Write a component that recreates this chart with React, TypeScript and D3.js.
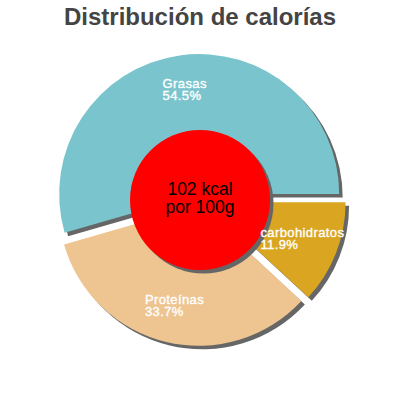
import { useEffect, useRef } from 'react';
import * as d3 from 'd3';

const title = 'Distribución de calorías';
const categories = ['Grasas', 'carbohidratos', 'Proteínas'];
const percents = [54.5, 11.9, 33.7];
const colors = ['#7ac5cd', '#daa520', '#eec591'];
const centerLines = ['102 kcal', 'por 100g'];

type Arc = d3.PieArcDatum<number>;

export default function App() {
  const svgRef = useRef<SVGSVGElement>(null);

  useEffect(() => {
    if (!svgRef.current) return;
    const svg = d3.select(svgRef.current);
    svg.selectAll('*').remove();

    const cx = 200;
    const cy = 200;
    const radius = 140;
    const inner = 70;
    const explode = 6;
    const shadow = 3.5;
    const labelR = 110;
    const font = '"Liberation Sans", Arial, sans-serif';

    // Grasas ends at 3 o'clock, rest follows clockwise
    const total = d3.sum(percents);
    const start = Math.PI / 2 - (2 * Math.PI * percents[0]) / total;
    const pie = d3.pie<number>().sort(null).startAngle(start).endAngle(start + 2 * Math.PI);
    const arcs = pie(percents);
    const arc = d3.arc<Arc>().innerRadius(0).outerRadius(radius);

    const mid = (a: Arc) => (a.startAngle + a.endAngle) / 2;
    const offX = (a: Arc) => Math.sin(mid(a)) * explode;
    const offY = (a: Arc) => -Math.cos(mid(a)) * explode;

    // title
    svg.append('text')
      .attr('x', 200)
      .attr('y', 25)
      .attr('text-anchor', 'middle')
      .attr('font-family', font)
      .attr('font-weight', 'bold')
      .attr('font-size', 24)
      .attr('fill', '#444')
      .text(title);

    // slice shadows
    svg.append('g')
      .selectAll('path')
      .data(arcs)
      .enter()
      .append('path')
      .attr('transform', d => `translate(${cx + offX(d) + shadow},${cy + offY(d) + shadow})`)
      .attr('d', arc)
      .attr('fill', '#666');

    // slices
    svg.append('g')
      .selectAll('path')
      .data(arcs)
      .enter()
      .append('path')
      .attr('transform', d => `translate(${cx + offX(d)},${cy + offY(d)})`)
      .attr('d', arc)
      .attr('fill', (_, i) => colors[i]);

    // center disc
    svg.append('circle')
      .attr('cx', cx + shadow)
      .attr('cy', cy + shadow)
      .attr('r', inner)
      .attr('fill', '#666');
    svg.append('circle')
      .attr('cx', cx)
      .attr('cy', cy)
      .attr('r', inner)
      .attr('fill', '#ff0000');

    svg.append('text')
      .attr('text-anchor', 'middle')
      .attr('font-family', font)
      .attr('font-size', 17.5)
      .attr('fill', '#000')
      .selectAll('tspan')
      .data(centerLines)
      .enter()
      .append('tspan')
      .attr('x', cx)
      .attr('y', (_, i) => cy - 5 + i * 18)
      .text(d => d);

    // labels, left-aligned block centred on the slice
    arcs.forEach((a, i) => {
      const lx = cx + Math.sin(mid(a)) * labelR;
      const ly = cy - Math.cos(mid(a)) * labelR;
      const t = svg.append('text')
        .attr('font-family', font)
        .attr('font-size', 13)
        .attr('letter-spacing', 0.4)
        .attr('fill', '#fff')
        .attr('stroke', '#fff')
        .attr('stroke-width', 0.35);
      const lines = [categories[i], `${percents[i]}%`];
      const spans = t.selectAll('tspan')
        .data(lines)
        .enter()
        .append('tspan')
        .attr('x', 0)
        .attr('y', (_, j) => ly - 3 + j * 12)
        .text(d => d);
      let w = 0;
      spans.each(function () {
        w = Math.max(w, (this as SVGTSpanElement).getComputedTextLength());
      });
      spans.attr('x', lx - w / 2);
    });
  }, []);

  return (
    <svg
      ref={svgRef}
      width={400}
      height={400}
      style={{ position: 'absolute', left: 0, top: 0, background: '#fff' }}
    />
  );
}
